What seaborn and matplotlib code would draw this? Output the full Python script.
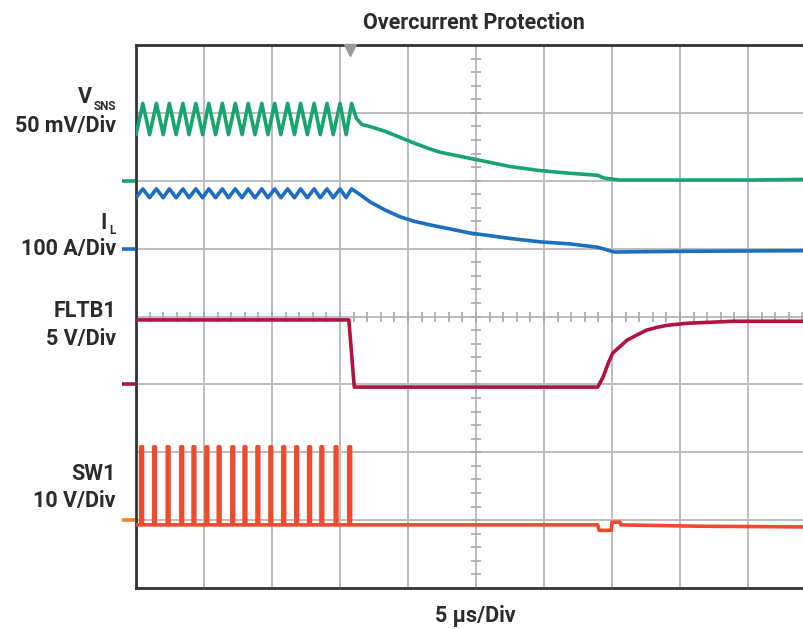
import numpy as np
import pandas as pd
import matplotlib
matplotlib.use("Agg")
import matplotlib.pyplot as plt
import seaborn as sns

# Scope trace data (x in time divisions, y in vertical divisions)
# switching section: peak / trough times of the ripple (div)
ripple_trough_t = [0.00, 0.20, 0.40, 0.59, 0.78, 0.98, 1.17, 1.36, 1.56, 1.75,
                   1.94, 2.13, 2.33, 2.52, 2.71, 2.90, 3.09]
ripple_peak_t = [0.10, 0.30, 0.49, 0.69, 0.88, 1.07, 1.27, 1.46, 1.65, 1.85,
                 2.04, 2.23, 2.42, 2.62, 2.81, 3.00, 3.17]

vsns_peak, vsns_trough = 7.14, 6.68
il_peak, il_trough = 5.88, 5.75

# after the fault: decay of V_SNS and I_L
vsns_tail_t = [3.24, 3.32, 3.47, 3.66, 3.88, 4.10, 4.32, 4.47, 4.62, 4.91,
               5.21, 5.50, 5.94, 6.38, 6.79, 6.88, 7.12, 8.00, 9.03, 9.82]
vsns_tail_v = [6.92, 6.83, 6.79, 6.73, 6.64, 6.55, 6.47, 6.42, 6.39, 6.33,
               6.27, 6.21, 6.15, 6.11, 6.08, 6.04, 6.01, 6.01, 6.01, 6.02]

il_tail_t = [3.26, 3.44, 3.66, 3.88, 4.10, 4.32, 4.62, 4.91, 5.21, 5.50,
             5.94, 6.38, 6.79, 6.90, 7.03, 8.00, 9.82]
il_tail_v = [5.82, 5.69, 5.57, 5.47, 5.40, 5.35, 5.29, 5.23, 5.19, 5.15,
             5.10, 5.07, 5.02, 4.99, 4.95, 4.96, 4.97]

fltb_t = [0.00, 3.13, 3.21, 6.79, 6.87, 6.94, 7.01, 7.12, 7.22, 7.37, 7.51,
          7.66, 7.81, 8.10, 8.78, 9.82]
fltb_v = [3.95, 3.95, 2.96, 2.96, 3.11, 3.30, 3.46, 3.56, 3.65, 3.73, 3.80,
          3.84, 3.87, 3.90, 3.93, 3.93]

sw_pulse_t = [0.07, 0.26, 0.46, 0.66, 0.84, 1.03, 1.21, 1.41, 1.59, 1.78,
              1.97, 2.16, 2.35, 2.54, 2.72, 2.93, 3.13]
sw_pulse_w = 0.025
sw_low, sw_high = 0.93, 2.08
sw_tail_t = [3.19, 6.79, 6.81, 6.99, 7.00, 7.12, 7.13, 8.29, 9.82]
sw_tail_v = [0.93, 0.93, 0.85, 0.85, 0.97, 0.97, 0.93, 0.91, 0.90]

# channel ground markers (div)
channels = ["VSNS", "IL", "FLTB1", "SW1"]
ground_levels = [6.0, 5.0, 3.0, 1.0]
colors = ["#17a56f", "#1b6ec2", "#b3123f", "#ee4a2e"]
marker_colors = ["#17a56f", "#1b6ec2", "#b3123f", "#f07f2a"]


def ripple(peak, trough):
    t, v = [], []
    for tt, tp in zip(ripple_trough_t, ripple_peak_t):
        t += [tt, tp]
        v += [trough, peak]
    return t, v


vt, vv = ripple(vsns_peak, vsns_trough)
vsns = pd.DataFrame({"t": vt + vsns_tail_t, "v": vv + vsns_tail_v})
it, iv = ripple(il_peak, il_trough)
il = pd.DataFrame({"t": it + il_tail_t, "v": iv + il_tail_v})
fltb = pd.DataFrame({"t": fltb_t, "v": fltb_v})

st, sv = [0.0], [sw_low]
for p in sw_pulse_t:
    st += [p, p, p + sw_pulse_w, p + sw_pulse_w]
    sv += [sw_low, sw_high, sw_high, sw_low]
sw = pd.DataFrame({"t": st + sw_tail_t, "v": sv + sw_tail_v})

sns.set_style("white")
plt.rcParams['font.family'] = ['Roboto', 'DejaVu Sans']

W, H = 804, 629
fig = plt.figure(figsize=(W / 100, H / 100), dpi=100)
left, top, bottom = 136, 45, 588
ax = fig.add_axes([left / W, 1 - bottom / H, 1 - left / W, (bottom - top) / H])
ax.set_xlim(0, (W - left) / 68.0)
ax.set_ylim(0, 8)

# graticule
ax.set_xticks(range(1, 10))
ax.set_yticks(range(1, 8))
ax.grid(True, color="#bcbcbc", lw=1.4)
ax.tick_params(length=0, labelbottom=False, labelleft=False)
minor = np.arange(0.2, 10, 0.2)
ax.plot(minor, np.full_like(minor, 4.0), ls="none", marker="|", ms=7,
        color="#a8a8a8", mew=1.2, zorder=1)
minor_y = np.arange(0.2, 8, 0.2)
ax.plot(np.full_like(minor_y, 5.0), minor_y, ls="none", marker="_", ms=7,
        color="#a8a8a8", mew=1.2, zorder=1)

for s in ["top", "left", "bottom"]:
    ax.spines[s].set_color("#333333")
    ax.spines[s].set_linewidth(2.0)
ax.spines["right"].set_visible(False)

# traces
for df, c in zip([vsns, il, fltb, sw], colors):
    sns.lineplot(data=df, x="t", y="v", sort=False, estimator=None, color=c,
                 lw=2.6, ax=ax, zorder=3)
ax.set_xlabel("")
ax.set_ylabel("")

# ground markers on the left
for g, c in zip(ground_levels, marker_colors):
    ax.plot([-0.21, -0.02], [g, g], color=c, lw=2.6, clip_on=False,
            solid_capstyle="butt")

# trigger marker
ax.plot([3.15], [7.93], marker="v", color="#999999", ms=8, clip_on=False, zorder=5)

fs = 15.5
tc = "#2b2b2b"
fig.text(474 / W, 1 - 23 / H, "Overcurrent Protection", ha="center", va="center",
         fontsize=fs, fontweight="bold", color=tc)
fig.text(475 / W, 1 - 616 / H, "5 µs/Div", ha="center", va="center",
         fontsize=fs, fontweight="bold", color=tc)

rx = 116 / W
fig.text(92 / W, 1 - 97 / H, "V", ha="right", va="center", fontsize=fs,
         fontweight="bold", color=tc)
fig.text(rx, 1 - 106 / H, "SNS", ha="right", va="center", fontsize=8.5,
         fontweight="bold", color=tc)
fig.text(rx, 1 - 126 / H, "50 mV/Div", ha="right", va="center", fontsize=fs,
         fontweight="bold", color=tc)
fig.text(107 / W, 1 - 223 / H, "I", ha="right", va="center", fontsize=fs,
         fontweight="bold", color=tc)
fig.text(rx, 1 - 230 / H, "L", ha="right", va="center", fontsize=8.5,
         fontweight="bold", color=tc)
fig.text(rx, 1 - 249 / H, "100 A/Div", ha="right", va="center", fontsize=fs,
         fontweight="bold", color=tc)
fig.text(rx, 1 - 311 / H, "FLTB1", ha="right", va="center", fontsize=fs,
         fontweight="bold", color=tc)
fig.text(rx, 1 - 339 / H, "5 V/Div", ha="right", va="center", fontsize=fs,
         fontweight="bold", color=tc)
fig.text(rx, 1 - 474 / H, "SW1", ha="right", va="center", fontsize=fs,
         fontweight="bold", color=tc)
fig.text(rx, 1 - 501 / H, "10 V/Div", ha="right", va="center", fontsize=fs,
         fontweight="bold", color=tc)

fig.savefig("out.png", dpi=100)
